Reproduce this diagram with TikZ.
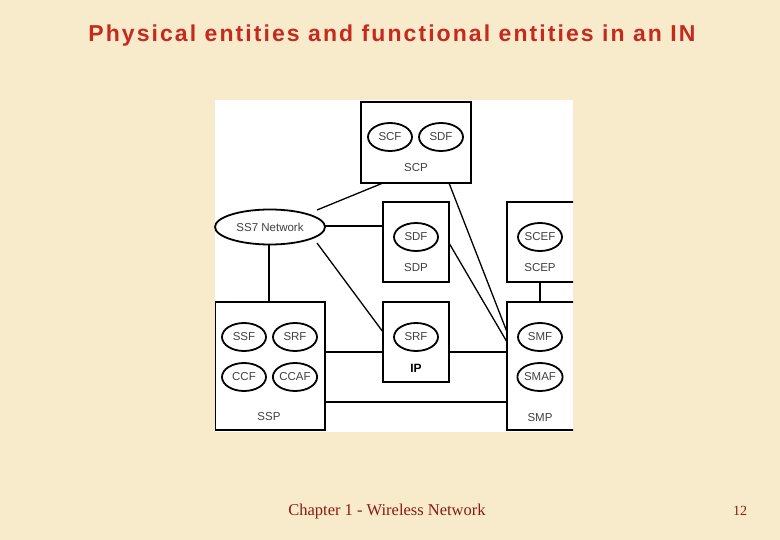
\documentclass[tikz,border=0pt]{standalone}
\usepackage{fontspec}
\setmainfont{Liberation Sans}
\newfontfamily\serifff{Liberation Serif}
\newfontfamily\titlef[LetterSpace=9]{Liberation Sans}
\usetikzlibrary{shapes.geometric}
\definecolor{bg}{HTML}{F8EBCC}
\definecolor{tred}{HTML}{C42A1E}
\definecolor{fred}{HTML}{8B1A10}
\tikzset{
 box/.style={draw,line width=1.5pt,fill=white},
 ell/.style={draw,ellipse,line width=1.8pt,minimum width=44pt,minimum height=28pt,inner sep=0pt,font=\fontsize{11.5}{11.5}\selectfont,text=black!75},
 lbl/.style={font=\fontsize{11.5}{11.5}\selectfont,text=black!75},
 ln/.style={line width=1.3pt}
}
\begin{document}
\begin{tikzpicture}[x=1pt,y=-1pt]
\fill[bg] (0,0) rectangle (780,540);
\useasboundingbox (0,0) rectangle (780,540);
\node[text=tred,font=\titlef\bfseries\fontsize{23}{23}\selectfont] (title) at (392,36) {Physical entities and functional entities in an IN};
\node[text=fred,font=\serifff\fontsize{16.5}{16.5}\selectfont] (foot) at (387,512) {Chapter 1 - Wireless Network};
\node[text=fred,font=\serifff\fontsize{14}{14}\selectfont] (num) at (740,511) {12};
\fill[white] (215,100) rectangle (573,432);
\begin{scope}
\clip (215,100) rectangle (573,432);
\draw[box] (361,102) rectangle (471,183);
\draw[box] (383,202) rectangle (449,282);
\draw[box] (507,202) rectangle (590,282);
\draw[box] (383,302) rectangle (449,382);
\draw[box] (507,302) rectangle (590,430);
\draw[box] (215,302) rectangle (325,430);
\end{scope}
\node[ell] (scf) at (390,137) {SCF};
\node[ell] (sdf1) at (441,137) {SDF};
\node[lbl] (scp) at (416,168) {SCP};
\node[draw,ellipse,line width=1.8pt,fill=white,minimum width=110pt,minimum height=35pt,inner sep=0pt,font=\fontsize{11.5}{11.5}\selectfont,text=black!75] (ss7) at (270,227) {SS7 Network};
\node[ell] (sdf2) at (416,237) {SDF};
\node[lbl] (sdp) at (416,268) {SDP};
\node[ell] (scef) at (540,237) {SCEF};
\node[lbl] (scep) at (540,268) {SCEP};
\node[ell] (srf2) at (416,337) {SRF};
\node[font=\bfseries\fontsize{12}{12}\selectfont] (ip) at (416,368) {IP};
\node[ell] (smf) at (540,337) {SMF};
\node[ell] (smaf) at (540,377) {SMAF};
\node[lbl] (smp) at (540,418) {SMP};
\node[ell] (ssf) at (244,337) {SSF};
\node[ell] (srf1) at (295,337) {SRF};
\node[ell] (ccf) at (244,377) {CCF};
\node[ell] (ccaf) at (295,377) {CCAF};
\node[lbl] (ssp) at (269,417) {SSP};
\coordinate (a1) at (317,210); \coordinate (a2) at (383,183);
\coordinate (b1) at (325,226); \coordinate (b2) at (383,226);
\coordinate (c1) at (317,243); \coordinate (c2) at (383,332);
\coordinate (d1) at (269,245); \coordinate (d2) at (269,302);
\coordinate (e1) at (449,183); \coordinate (e2) at (507,332);
\coordinate (f1) at (449,243); \coordinate (f2) at (507,342);
\coordinate (g1) at (540,282); \coordinate (g2) at (540,302);
\coordinate (h1) at (325,352); \coordinate (h2) at (383,352);
\coordinate (i1) at (449,352); \coordinate (i2) at (507,352);
\coordinate (j1) at (325,402); \coordinate (j2) at (507,402);
\draw[ln] (a1)--(a2); \draw[ln] (b1)--(b2); \draw[ln] (c1)--(c2);
\draw[ln] (d1)--(d2); \draw[ln] (e1)--(e2); \draw[ln] (f1)--(f2);
\draw[ln] (g1)--(g2); \draw[ln] (h1)--(h2); \draw[ln] (i1)--(i2);
\draw[ln] (j1)--(j2);
\end{tikzpicture}
\end{document}
